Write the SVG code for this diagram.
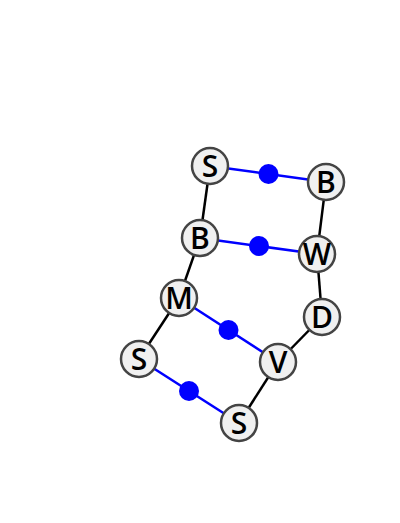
<svg xmlns="http://www.w3.org/2000/svg" width="400" height="523" viewBox="0 0 400 523">
<style>
.n{fill:#f0f0f0;stroke:#444;stroke-width:2.5}
.t{font-family:"Open Sans",sans-serif;font-weight:600;font-size:30px;fill:#000;text-anchor:middle}
.k{stroke:#000;stroke-width:2.5}
.b{stroke:#0000ff;stroke-width:2.5}
.d{fill:#0000ff}
</style>
<rect width="400" height="523" fill="#fff"/>
<g id="connectors">
<line class="k" x1="210" y1="166" x2="200" y2="238"/>
<line class="k" x1="200" y1="238" x2="179" y2="298"/>
<line class="k" x1="179" y1="298" x2="139" y2="359"/>
<line class="k" x1="239" y1="423" x2="278" y2="362"/>
<line class="k" x1="278" y1="362" x2="322" y2="317"/>
<line class="k" x1="322" y1="317" x2="317" y2="254"/>
<line class="k" x1="317" y1="254" x2="326" y2="182"/>
<line class="b" x1="210" y1="166" x2="326" y2="182"/>
<line class="b" x1="200" y1="238" x2="317" y2="254"/>
<line class="b" x1="179" y1="298" x2="278" y2="362"/>
<line class="b" x1="139" y1="359" x2="239" y2="423"/>
<circle class="d" cx="268.5" cy="174" r="10"/>
<circle class="d" cx="259" cy="246" r="10"/>
<circle class="d" cx="228.5" cy="330" r="10"/>
<circle class="d" cx="189" cy="391" r="10"/>
</g>
<g id="n1"><circle class="n" cx="210" cy="166" r="18"/><text class="t" x="210" y="177">S</text></g>
<g id="n2"><circle class="n" cx="326" cy="182" r="18"/><text class="t" x="326" y="193">B</text></g>
<g id="n3"><circle class="n" cx="200" cy="238" r="18"/><text class="t" x="200" y="249">B</text></g>
<g id="n4"><circle class="n" cx="317" cy="254" r="18"/><text class="t" x="317" y="265">W</text></g>
<g id="n5"><circle class="n" cx="179" cy="298" r="18"/><text class="t" x="179" y="309">M</text></g>
<g id="n6"><circle class="n" cx="322" cy="317" r="18"/><text class="t" x="322" y="328">D</text></g>
<g id="n7"><circle class="n" cx="139" cy="359" r="18"/><text class="t" x="139" y="370">S</text></g>
<g id="n8"><circle class="n" cx="278" cy="362" r="18"/><text class="t" x="278" y="373">V</text></g>
<g id="n9"><circle class="n" cx="239" cy="423" r="18"/><text class="t" x="239" y="434">S</text></g>
</svg>
